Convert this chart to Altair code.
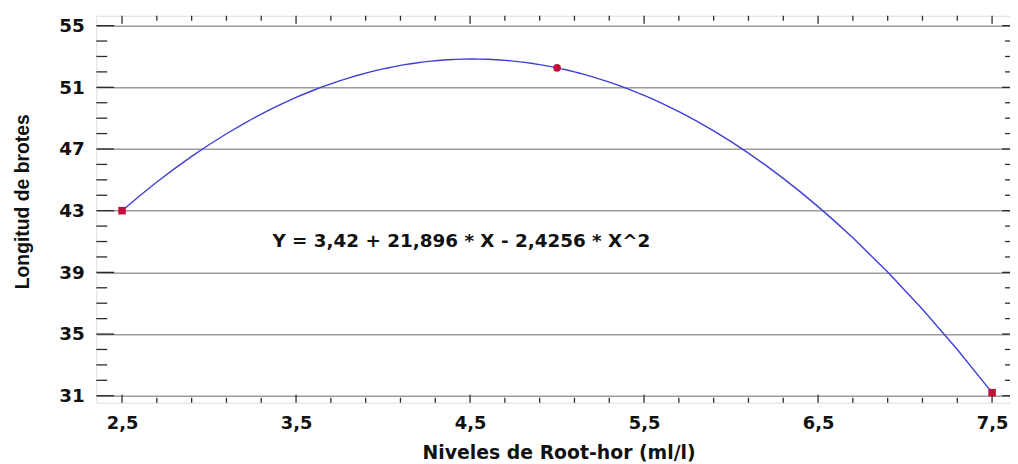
import altair as alt
import pandas as pd

x_levels = [2.5, 5.0, 7.5]
y_means = [43.0, 52.26, 31.2]

# Axis tick values
x_major = [2.5, 3.5, 4.5, 5.5, 6.5, 7.5]
x_minor = [2.7, 2.9, 3.1, 3.3, 3.7, 3.9, 4.1, 4.3, 4.7, 4.9, 5.1, 5.3,
           5.7, 5.9, 6.1, 6.3, 6.7, 6.9, 7.1, 7.3]
y_major = [31, 35, 39, 43, 47, 51, 55]
y_minor = [32, 33, 34, 36, 37, 38, 40, 41, 42, 44, 45, 46, 48, 49, 50,
           52, 53, 54]

equation = ["Y = 3,42 + 21,896 * X - 2,4256 * X^2"]
eq_anchor_x = [4.45]
eq_anchor_y = [40.65]

W, H = 921, 390
FRAME = "#2b2b2b"
LABEL_FONT = "DejaVu Sans"

pts = pd.DataFrame({"x": x_levels, "y": y_means})
xs = alt.Scale(domain=[2.352, 7.603], nice=False, zero=False)
ys = alt.Scale(domain=[30.55, 55.64], nice=False, zero=False)

x_axis = alt.Axis(
    values=x_major,
    labelExpr="replace(format(datum.value, '.1f'), '.', ',')",
    domain=False, ticks=False, grid=False,
    labelFont=LABEL_FONT, labelFontSize=18, labelFontWeight="bold",
    labelColor="#111111", labelPadding=12,
    title="Niveles de Root-hor (ml/l)",
    titleFont=LABEL_FONT, titleFontSize=19, titleFontWeight="bold",
    titleColor="#111111", titleBaseline="alphabetic", titleX=466, titleY=56,
)
y_axis = alt.Axis(
    values=y_major,
    domain=False, ticks=False, grid=True, gridColor="#9c9c9c",
    gridWidth=1.5, gridOpacity=1,
    labelFont=LABEL_FONT, labelFontSize=18.5, labelFontWeight="bold",
    labelColor="#111111", labelPadding=12,
    title="Longitud de brotes",
    titleFont="Liberation Sans", titleFontSize=19.5, titleFontWeight="bold",
    titleColor="#111111", titleBaseline="alphabetic", titleX=-68, titleY=187,
)

base = alt.Chart(pts)

curve = base.transform_regression(
    "x", "y", method="poly", order=2, extent=[2.5, 7.5]
).mark_line(color="#3f3fd6", strokeWidth=1.4).encode(
    x=alt.X("x:Q", scale=xs, axis=x_axis),
    y=alt.Y("y:Q", scale=ys, axis=y_axis),
)

points = base.mark_point(filled=True, size=58, color="#c40f3c", opacity=1).encode(
    x=alt.X("x:Q", scale=xs),
    y=alt.Y("y:Q", scale=ys),
    shape=alt.condition("datum.x == 5", alt.value("circle"), alt.value("square")),
)

eq = alt.Chart(pd.DataFrame({"x": eq_anchor_x, "y": eq_anchor_y, "t": equation})).mark_text(
    font=LABEL_FONT, fontSize=18.5, fontWeight="bold", color="#111111",
    align="center", baseline="alphabetic",
).encode(x=alt.X("x:Q", scale=xs), y=alt.Y("y:Q", scale=ys), text="t:N")


def yrule(vals, x0, x1):
    return alt.Chart(pd.DataFrame({"v": vals})).mark_rule(
        color=FRAME, strokeWidth=1.3
    ).encode(y=alt.Y("v:Q", scale=ys), x=alt.value(x0), x2=alt.value(x1))


def xrule(vals, y0, y1):
    return alt.Chart(pd.DataFrame({"v": vals})).mark_rule(
        color=FRAME, strokeWidth=1.3
    ).encode(x=alt.X("v:Q", scale=xs), y=alt.value(y0), y2=alt.value(y1))


ticks = [
    yrule(y_major, 0, 18), yrule(y_minor, 0, 11),
    yrule(y_major, W, W - 8), yrule(y_minor, W, W - 5),
    xrule(x_major, 0, 8), xrule(x_minor, 0, 5),
    xrule(x_major, H, H - 8), xrule(x_minor, H, H - 5),
]

chart = alt.layer(curve, *ticks, points, eq).properties(
    width=W, height=H,
    autosize=alt.AutoSizeParams(type="none"),
    padding={"left": 89, "top": 6, "right": 0, "bottom": 60},
).configure_view(stroke=FRAME, strokeWidth=1.5).configure(background="white")

chart.save("out.html", embed_options={"renderer": "svg", "actions": False})
